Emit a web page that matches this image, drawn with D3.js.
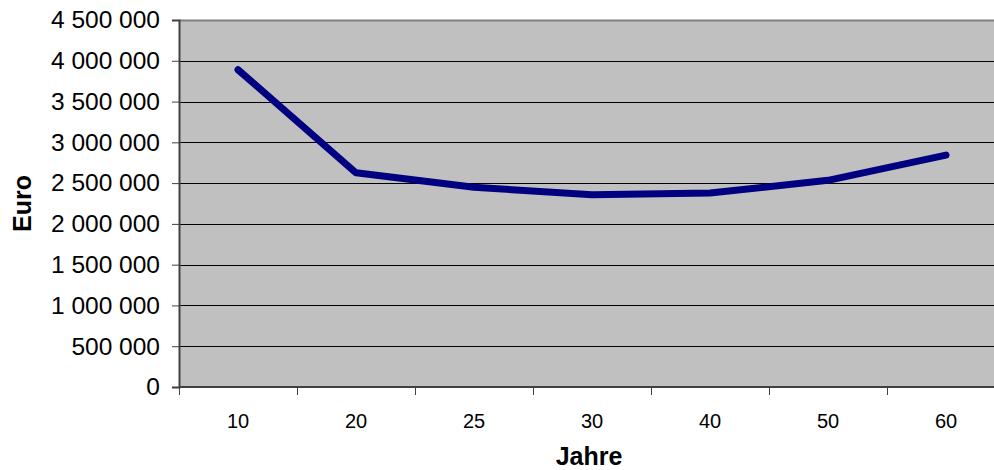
<!DOCTYPE html>
<html>
<head>
<meta charset="utf-8">
<script src="https://cdn.jsdelivr.net/npm/d3@7"></script>
<style>
  html, body { margin: 0; padding: 0; background: #fff; }
  svg { display: block; font-family: "Liberation Sans", Arial, sans-serif; }
</style>
</head>
<body>
<svg id="chart" width="994" height="470"></svg>
<script>
// Kosten je Nutzungsdauer
const jahre = ["10", "20", "25", "30", "40", "50", "60"];
const euro = [3890000, 2626000, 2450000, 2356000, 2379000, 2534000, 2844000];
const yTicks = [0, 500000, 1000000, 1500000, 2000000, 2500000, 3000000, 3500000, 4000000, 4500000];

const svg = d3.select("#chart");
const plot = { left: 179, top: 20, right: 1005, bottom: 387 };

const x = d3.scaleBand().domain(jahre).range([plot.left, plot.right]);
const y = d3.scaleLinear().domain([0, 4500000]).range([plot.bottom, plot.top]);

const fmt = v => d3.format(",")(v).replace(/,/g, " ");

// Plot background
svg.append("rect")
  .attr("x", plot.left).attr("y", plot.top)
  .attr("width", plot.right - plot.left).attr("height", plot.bottom - plot.top)
  .attr("fill", "#c0c0c0");

// Horizontal gridlines
svg.append("g")
  .selectAll("line")
  .data(yTicks.filter(d => d > 0 && d < 4500000))
  .join("line")
  .attr("x1", plot.left).attr("x2", plot.right)
  .attr("y1", d => Math.round(y(d)) + 0.5).attr("y2", d => Math.round(y(d)) + 0.5)
  .attr("stroke", "#000").attr("stroke-width", 1);

// Top border of plot area
svg.append("line")
  .attr("x1", plot.left).attr("x2", plot.right)
  .attr("y1", plot.top + 0.5).attr("y2", plot.top + 0.5)
  .attr("stroke", "#808080").attr("stroke-width", 2);

// Y axis
const yAxis = svg.append("g")
  .attr("transform", `translate(${plot.left},0)`)
  .call(d3.axisLeft(y).tickValues(yTicks).tickFormat(fmt).tickSize(7).tickPadding(12));
yAxis.select(".domain").attr("stroke", "#404040").attr("stroke-width", 2);
yAxis.selectAll(".tick line").attr("stroke", "#404040");
yAxis.selectAll(".tick text")
  .attr("font-size", 24.5).attr("fill", "#000")
  .attr("font-family", "Liberation Sans, Arial, sans-serif");

// X axis with ticks between categories
const xAxis = svg.append("g")
  .attr("transform", `translate(0,${plot.bottom})`);
xAxis.append("line")
  .attr("x1", plot.left).attr("x2", plot.right)
  .attr("y1", 0).attr("y2", 0)
  .attr("stroke", "#404040").attr("stroke-width", 2);
xAxis.selectAll("line.sep")
  .data(jahre)
  .join("line")
  .attr("class", "sep")
  .attr("x1", d => Math.round(x(d)) + 0.5).attr("x2", d => Math.round(x(d)) + 0.5)
  .attr("y1", 0).attr("y2", 8)
  .attr("stroke", "#404040");
xAxis.selectAll("text")
  .data(jahre)
  .join("text")
  .attr("x", d => x(d) + x.bandwidth() / 2)
  .attr("y", 41)
  .attr("text-anchor", "middle")
  .attr("font-size", 20)
  .text(d => d);

// Line
svg.append("path")
  .datum(euro)
  .attr("fill", "none")
  .attr("stroke", "#000080")
  .attr("stroke-width", 7)
  .attr("stroke-linejoin", "round")
  .attr("stroke-linecap", "round")
  .attr("d", d3.line()
    .x((d, i) => x(jahre[i]) + x.bandwidth() / 2)
    .y(d => y(d)));

// Axis titles
svg.append("text")
  .attr("x", (plot.left + plot.right) / 2 - 3).attr("y", 465)
  .attr("text-anchor", "middle")
  .attr("font-size", 25).attr("font-weight", "bold")
  .text("Jahre");

svg.append("text")
  .attr("transform", `translate(31,${(plot.top + plot.bottom) / 2}) rotate(-90)`)
  .attr("text-anchor", "middle")
  .attr("font-size", 25).attr("font-weight", "bold")
  .text("Euro");
</script>
</body>
</html>
